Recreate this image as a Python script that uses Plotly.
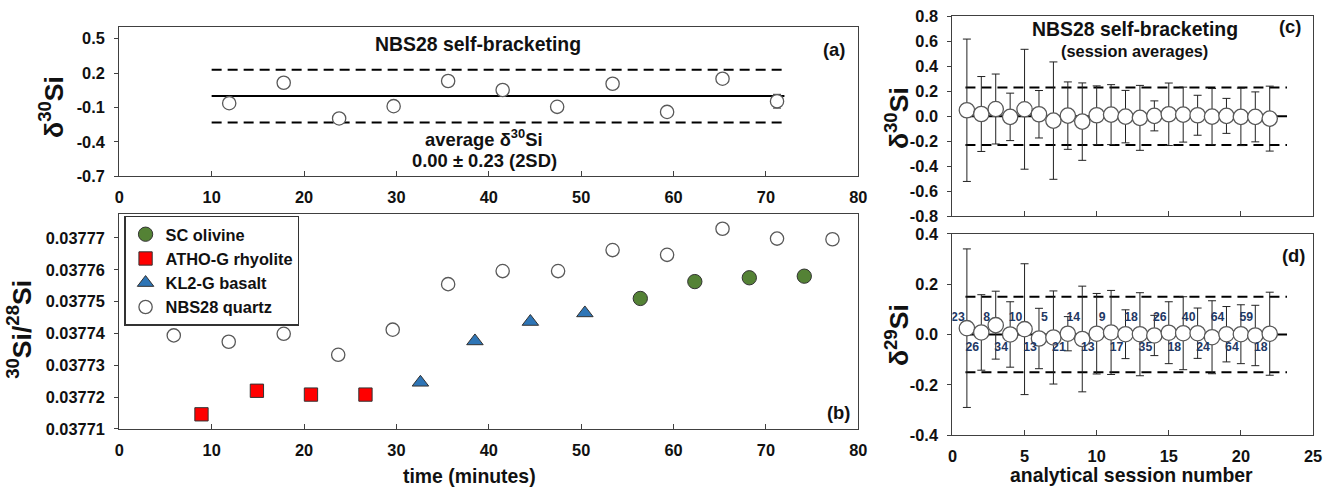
import plotly.graph_objects as go

# The captured page region is the 8px-margined page, slightly larger than the
# window, and is scaled into 1326x488; positions below are given in the
# reference picture's pixels and converted for that.
REF_W, REF_H = 1326, 488
OFF = 8
CAP_W, CAP_H = REF_W + 2 * OFF, REF_H + 2 * OFF
SX, SY = REF_W / CAP_W, REF_H / CAP_H
W, H = CAP_W - OFF, CAP_H - OFF
FONT = "Liberation Sans, Arial, sans-serif"
AX = "#404040"

# ---------------- data: panel (a) NBS28 self-bracketing ----------------
a_time = [11.9, 17.8, 23.8, 29.7, 35.6, 41.5, 47.4, 53.4, 59.3, 65.3, 71.2]
a_d30 = [-0.062, 0.116, -0.195, -0.088, 0.131, 0.053, -0.094, 0.107, -0.138, 0.151, -0.045]
a_err = [0, 0, 0, 0, 0, 0, 0, 0, 0, 0, 0.06]
a_mean = 0.0
a_2sd = 0.23
a_line_x = [10, 72]
a_yticks = [-0.7, -0.4, -0.1, 0.2, 0.5]
a_yticklabels = ["-0.7", "-0.4", "-0.1", "0.2", "0.5"]

# ---------------- data: panel (b) raw 30Si/28Si ----------------
b_nbs_t = [5.9, 11.85, 17.8, 23.7, 29.6, 35.6, 41.5, 47.5, 53.4, 59.3, 65.3, 71.2, 77.2]
b_nbs_r = [0.0377394, 0.0377374, 0.0377399, 0.0377333, 0.0377412, 0.0377555, 0.0377596,
           0.0377596, 0.0377662, 0.0377647, 0.0377729, 0.0377698, 0.0377696]
b_atho_t = [8.9, 14.9, 20.75, 26.65]
b_atho_r = [0.0377146, 0.0377220, 0.0377208, 0.0377208]
b_kl2_t = [32.6, 38.5, 44.5, 50.4]
b_kl2_r = [0.0377246, 0.0377376, 0.0377437, 0.0377464]
b_sc_t = [56.4, 62.3, 68.2, 74.15]
b_sc_r = [0.0377510, 0.0377563, 0.0377575, 0.0377580]

# ---------------- data: panels (c), (d) session averages ----------------
sessions = list(range(1, 23))
c_d30 = [0.048, 0.018, 0.058, -0.005, 0.056, 0.016, -0.035, 0.005, -0.043, 0.008, 0.013,
         -0.003, -0.013, 0.003, 0.016, 0.013, 0.008, -0.003, 0.003, -0.005, -0.005, -0.019]
c_err = [0.57, 0.30, 0.28, 0.19, 0.48, 0.19, 0.47, 0.27, 0.31, 0.235, 0.24,
         0.21, 0.26, 0.12, 0.25, 0.22, 0.16, 0.225, 0.14, 0.23, 0.20, 0.26]
c_2sd = 0.23
d_d29 = [0.025, 0.008, 0.037, 0.0, 0.021, -0.016, -0.012, 0.003, -0.018, 0.003, 0.008,
         0.001, 0.001, -0.004, 0.007, 0.005, 0.005, -0.011, 0.001, 0.001, -0.004, 0.003]
d_err = [0.315, 0.15, 0.135, 0.13, 0.26, 0.12, 0.185, 0.068, 0.21, 0.16, 0.167,
         0.097, 0.165, 0.08, 0.123, 0.145, 0.10, 0.145, 0.11, 0.117, 0.12, 0.165]
d_n = [23, 26, 8, 34, 10, 13, 5, 21, 14, 13, 9, 17, 18, 35, 26, 18, 40, 24, 64, 64, 59, 18]
d_2sd = 0.15
cd_line_x = [0.9, 23.2]
c_yticks = [-0.8, -0.6, -0.4, -0.2, 0.0, 0.2, 0.4, 0.6, 0.8]
c_yticklabels = ["-0.8", "-0.6", "-0.4", "-0.2", "0.0", "0.2", "0.4", "0.6", "0.8"]
d_yticks = [-0.4, -0.2, 0.0, 0.2, 0.4]
d_yticklabels = ["-0.4", "-0.2", "0.0", "0.2", "0.4"]

K = 1 / ((SX + SY) / 2)  # size compensation for the capture scaling


def px(x):
    return (x / SX - OFF) / W


def py(y):
    return 1 - (y / SY - OFF) / H


def fs(v):
    return round(v * K, 2)


fig = go.Figure()

open_marker = dict(symbol="circle", size=fs(13), color="white", line=dict(color="#595959", width=1.3))

# (a)
fig.add_trace(go.Scatter(x=a_time, y=a_d30, mode="markers", marker=open_marker, showlegend=False,
                         error_y=dict(type="data", array=a_err, color="#333", thickness=1, width=4),
                         xaxis="x", yaxis="y"))

# (b)
fig.add_trace(go.Scatter(x=b_sc_t, y=b_sc_r, mode="markers", name="SC olivine",
                         marker=dict(symbol="circle", size=fs(14), color="#548235", line=dict(color="#333", width=1)),
                         xaxis="x2", yaxis="y2"))
fig.add_trace(go.Scatter(x=b_atho_t, y=b_atho_r, mode="markers", name="ATHO-G rhyolite",
                         marker=dict(symbol="square", size=fs(13), color="#FF0000", line=dict(color="#333", width=1)),
                         xaxis="x2", yaxis="y2"))
fig.add_trace(go.Scatter(x=b_kl2_t, y=b_kl2_r, mode="markers", name="KL2-G basalt",
                         marker=dict(symbol="triangle-up", size=fs(14), color="#2E75B6", line=dict(color="#333", width=1)),
                         xaxis="x2", yaxis="y2"))
fig.add_trace(go.Scatter(x=b_nbs_t, y=b_nbs_r, mode="markers", name="NBS28 quartz",
                         marker=open_marker, xaxis="x2", yaxis="y2"))

# (c)
fig.add_trace(go.Scatter(x=sessions, y=c_d30, mode="markers", showlegend=False,
                         marker=dict(symbol="circle", size=fs(15), color="white", line=dict(color="#595959", width=1.3)),
                         error_y=dict(type="data", array=c_err, color="#222", thickness=1, width=4),
                         xaxis="x3", yaxis="y3"))
# (d)
fig.add_trace(go.Scatter(x=sessions, y=d_d29, mode="markers", showlegend=False,
                         marker=dict(symbol="circle", size=fs(15), color="white", line=dict(color="#595959", width=1.3)),
                         error_y=dict(type="data", array=d_err, color="#222", thickness=1, width=4),
                         xaxis="x4", yaxis="y4"))
label_x = [s - 0.62 for s in sessions]
label_y = [0.067 if s % 2 else -0.054 for s in sessions]
fig.add_trace(go.Scatter(x=label_x, y=label_y, mode="text", text=[str(n) for n in d_n],
                         textfont=dict(family=FONT, size=fs(12), color="#1F3864", weight="bold"),
                         showlegend=False, xaxis="x4", yaxis="y4"))

# reference lines
shapes = []


def hline(xr, yr, xs, yv, dash):
    shapes.append(dict(type="line", xref=xr, yref=yr, x0=xs[0], x1=xs[1], y0=yv, y1=yv,
                       line=dict(color="black", width=2, dash=dash), layer="below"))


hline("x", "y", a_line_x, a_mean, "solid")
hline("x", "y", a_line_x, a_mean + a_2sd, "10px,6px")
hline("x", "y", a_line_x, a_mean - a_2sd, "10px,6px")
hline("x3", "y3", cd_line_x, 0, "solid")
hline("x3", "y3", cd_line_x, c_2sd, "10px,6px")
hline("x3", "y3", cd_line_x, -c_2sd, "10px,6px")
hline("x4", "y4", cd_line_x, 0, "solid")
hline("x4", "y4", cd_line_x, d_2sd, "10px,6px")
hline("x4", "y4", cd_line_x, -d_2sd, "10px,6px")

tickfont = dict(family=FONT, size=fs(16), color="#111", weight="bold")
common = dict(showline=True, mirror=True, linecolor=AX, linewidth=1.3, showgrid=False,
              zeroline=False, tickcolor=AX, tickwidth=1, tickfont=tickfont)

xa = dict(common, ticks="inside", ticklen=5, ticklabelstandoff=6)
ya = dict(common, ticks="outside", ticklen=4, ticklabelstandoff=6)

ax_l = [px(122), px(860)]
ax_r = [px(954), px(1314)]

fig.update_layout(
    width=W, height=H, margin=dict(l=0, r=0, t=0, b=0),
    paper_bgcolor="white", plot_bgcolor="white",
    font=dict(family=FONT, color="#111"),
    xaxis=dict(xa, domain=ax_l, range=[0, 80], dtick=10, tick0=0, anchor="y"),
    yaxis=dict(ya, domain=[py(176), py(26)], range=[-0.7005, 0.6], tickvals=a_yticks,
               ticktext=a_yticklabels, anchor="x"),
    xaxis2=dict(xa, domain=ax_l, range=[0, 80], dtick=10, tick0=0, anchor="y2"),
    yaxis2=dict(ya, domain=[py(430), py(213.5)], range=[0.0377099, 0.0377776], tick0=0.03771,
                dtick=0.00001, tickformat=".5f", anchor="x2"),
    xaxis3=dict(xa, domain=ax_r, range=[0, 25], dtick=5, tick0=0, showticklabels=False, anchor="y3"),
    yaxis3=dict(ya, domain=[py(216), py(15)], range=[-0.801, 0.801], tickvals=c_yticks,
                ticktext=c_yticklabels, anchor="x3"),
    xaxis4=dict(xa, domain=ax_r, range=[0, 25], dtick=5, tick0=0, anchor="y4"),
    yaxis4=dict(ya, domain=[py(436), py(233.5)], range=[-0.4005, 0.4005], tickvals=d_yticks,
                ticktext=d_yticklabels, anchor="x4"),
    shapes=shapes,
    legend=dict(x=px(127), y=py(215.5), xanchor="left", yanchor="top", bgcolor="white",
                bordercolor="#333", borderwidth=1.3, tracegroupgap=0, itemwidth=30,
                font=dict(family=FONT, size=fs(16), color="#111", weight="bold")),
)

ann = []


def text(x, y, s, size, angle=0):
    ann.append(dict(x=px(x), y=py(y), xref="paper", yref="paper", text=s, showarrow=False,
                    xanchor="center", yanchor="middle", textangle=angle,
                    font=dict(family=FONT, size=fs(size), color="#111", weight="bold")))


text(480, 43, "NBS28 self-bracketing", 19)
text(836, 48, "(a)", 18)
text(486, 137, "average δ<sup>30</sup>Si", 18)
text(486.5, 160, "0.00 ± 0.23 (2SD)", 18)
text(840.5, 413, "(b)", 18)
text(1136, 28, "NBS28 self-bracketing", 19)
text(1136, 50, "(session averages)", 16)
text(1291, 25, "(c)", 18)
text(1295, 255, "(d)", 18)
text(471.5, 477, "time (minutes)", 19)
text(1133, 476, "analytical session number", 19)
text(54, 106, "δ<sup>30</sup>Si", 26, -90)
text(22, 330, "<sup>30</sup>Si/<sup>28</sup>Si", 26, -90)
text(898, 117, "δ<sup>30</sup>Si", 26, -90)
text(898, 335, "δ<sup>29</sup>Si", 26, -90)
fig.update_layout(annotations=ann)

fig.write_html("out.html")
